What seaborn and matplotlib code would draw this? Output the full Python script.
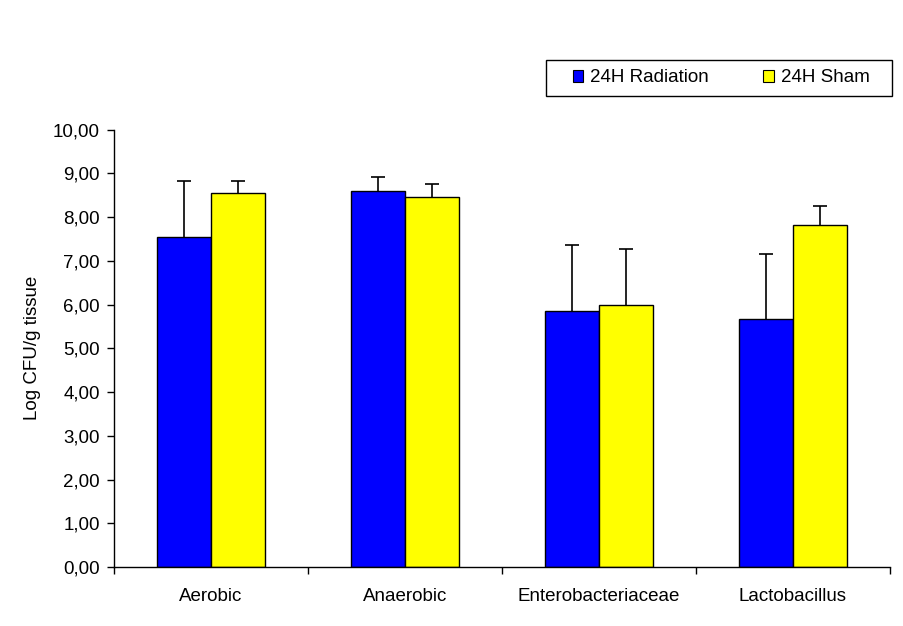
import numpy as np
import pandas as pd
import matplotlib
matplotlib.use('Agg')
import matplotlib.pyplot as plt
from matplotlib.patches import Rectangle
import seaborn as sns

categories = ['Aerobic', 'Anaerobic', 'Enterobacteriaceae', 'Lactobacillus']
groups = ['24H Radiation', '24H Sham']
radiation = [7.54, 8.59, 5.85, 5.68]
sham = [8.54, 8.46, 6.00, 7.81]
radiation_err = [1.28, 0.32, 1.50, 1.47]
sham_err = [0.28, 0.29, 1.26, 0.44]

sns.set_style('white')
plt.rcParams['font.family'] = ['Liberation Sans', 'DejaVu Sans']
plt.rcParams.update({'text.color': 'black', 'axes.labelcolor': 'black',
                     'xtick.color': 'black', 'ytick.color': 'black'})
fs = 13.5

df = pd.DataFrame({
    'category': categories * 2,
    'group': [groups[0]] * 4 + [groups[1]] * 4,
    'value': radiation + sham,
})

fig = plt.figure(figsize=(9.04, 6.26), dpi=100)
ax = fig.add_axes([0.1261, 0.0942, 0.8584, 0.6989])

sns.barplot(data=df, x='category', y='value', hue='group', order=categories,
            hue_order=groups, palette=['#0000FF', '#FFFF00'], saturation=1,
            width=0.56, edgecolor='black', linewidth=1.0, errorbar=None, ax=ax)

# upward-only error bars on the drawn bars (hide the cap at the bar top)
for cont, errs in zip(ax.containers, [radiation_err, sham_err]):
    for bar, e in zip(cont, errs):
        xc = bar.get_x() + bar.get_width() / 2
        h = bar.get_height()
        _, caps, _ = ax.errorbar(xc, h, yerr=[[0], [e]], fmt='none',
                                 ecolor='black', elinewidth=1.2, capsize=5,
                                 capthick=1.2)
        caps[0].set_visible(False)

ax.set_ylim(0, 10)
ax.set_xlim(-0.5, 3.5)
ax.set_yticks(np.arange(0, 11, 1))
ax.set_yticklabels([f'{v:.2f}'.replace('.', ',') for v in np.arange(0, 11, 1)])
ax.set_xticks(range(4))
ax.set_xticklabels(categories)
ax.set_xticks(np.arange(-0.5, 3.6, 1), minor=True)
ax.tick_params(axis='x', which='major', length=0, pad=15, labelsize=fs)
ax.tick_params(axis='x', which='minor', length=5, width=1, direction='out',
               bottom=True)
ax.tick_params(axis='y', length=5, width=1, direction='out', left=True,
               labelsize=fs, pad=5)
ax.set_xlabel('')
ax.set_ylabel('Log CFU/g tissue', fontsize=fs, labelpad=9)

for s in ['top', 'right']:
    ax.spines[s].set_visible(False)
for s in ['left', 'bottom']:
    ax.spines[s].set_color('black')
    ax.spines[s].set_linewidth(1.0)

handles, labels = ax.get_legend_handles_labels()
for h in handles:
    h.set_edgecolor('black')
    h.set_linewidth(0.8)
leg = ax.legend(handles, labels, ncol=2, loc='center left',
                bbox_to_anchor=(573 / 904, 1 - 78 / 626),
                bbox_transform=fig.transFigure, fontsize=fs, frameon=False,
                handlelength=0.55, handleheight=0.55, handletextpad=0.37,
                columnspacing=2.9, borderpad=0, borderaxespad=0)

fig.patches.append(Rectangle((546 / 904, 1 - 96 / 626), 346 / 904, 36 / 626,
                             transform=fig.transFigure, fill=False,
                             edgecolor='black', linewidth=1.0))

fig.savefig('out.png', dpi=100)
